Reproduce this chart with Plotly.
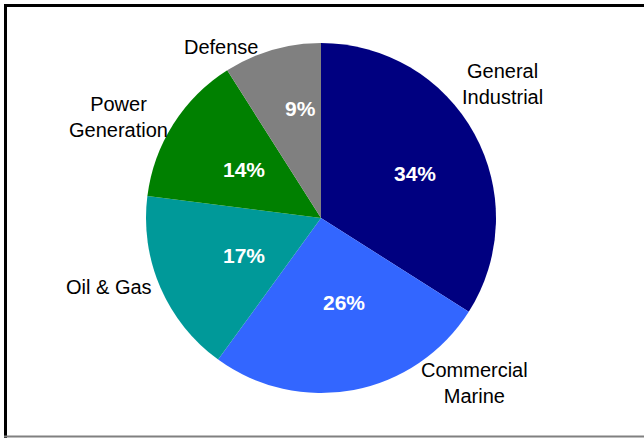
import plotly.graph_objects as go

W, H = 644, 438

categories = ["General Industrial", "Commercial Marine", "Oil & Gas", "Power Generation", "Defense"]
values = [34, 26, 17, 14, 9]
colors = ["#000080", "#3366FF", "#009999", "#008000", "#808080"]
label_texts = ["General<br>Industrial", "Commercial<br>Marine", "Oil & Gas", "Power<br>Generation", "Defense"]

# text placements (pixels in the 644x438 frame)
label_pos_px = [(503, 84), (474, 383), (108.5, 287), (118, 117), (221, 47.5)]
pct_pos_px = [(415, 173.5), (344, 302.5), (243.5, 255.5), (244, 170), (300, 108)]

cx, cy, r = 321, 218, 175
FONT = "Liberation Sans, Arial, sans-serif"

fig = go.Figure(go.Pie(
    labels=categories,
    values=values,
    sort=False,
    direction="clockwise",
    rotation=0,
    marker=dict(colors=colors, line=dict(width=0)),
    textinfo="none",
    showlegend=False,
    domain=dict(x=[(cx - r) / W, (cx + r) / W], y=[1 - (cy + r) / H, 1 - (cy - r) / H]),
    hoverinfo="label+percent",
))

total = sum(values)
annotations = []
for txt, (px, py) in zip(label_texts, label_pos_px):
    annotations.append(dict(
        x=px / W, y=1 - py / H, xref="paper", yref="paper",
        text=txt, showarrow=False, align="center",
        xanchor="center", yanchor="middle",
        font=dict(family=FONT, size=20, color="black"),
    ))
for v, (px, py) in zip(values, pct_pos_px):
    annotations.append(dict(
        x=px / W, y=1 - py / H, xref="paper", yref="paper",
        text=f"<b>{round(100 * v / total)}%</b>", showarrow=False,
        xanchor="center", yanchor="middle",
        font=dict(family=FONT, size=21, color="white"),
    ))

shapes = [
    dict(type="line", xref="paper", yref="paper", x0=4 / W, x1=1.01, y0=1 - 5.5 / H, y1=1 - 5.5 / H,
         line=dict(color="black", width=3)),
    dict(type="line", xref="paper", yref="paper", x0=5.5 / W, x1=5.5 / W, y0=1 - 438 / H, y1=1 - 4 / H,
         line=dict(color="black", width=3)),
    dict(type="line", xref="paper", yref="paper", x0=4 / W, x1=1.01, y0=1 - 436.5 / H, y1=1 - 436.5 / H,
         line=dict(color="#808080", width=2)),
]

fig.update_layout(
    width=W, height=H,
    margin=dict(l=0, r=0, t=0, b=0),
    paper_bgcolor="white",
    plot_bgcolor="white",
    annotations=annotations,
    shapes=shapes,
)

fig.write_html("out.html", config={"displayModeBar": False},
               post_script="document.body.style.margin='0';")
